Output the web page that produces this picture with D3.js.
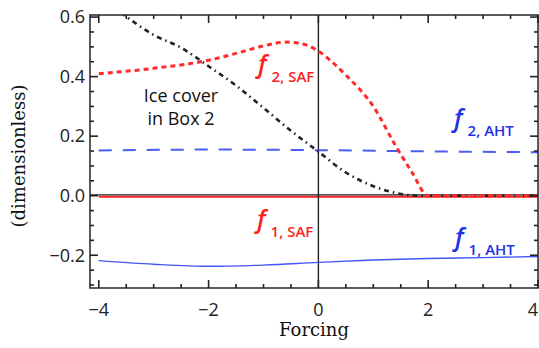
<!DOCTYPE html>
<html>
<head>
<meta charset="utf-8">
<script src="https://cdn.jsdelivr.net/npm/d3@7"></script>
<style>
  body { margin: 0; background: #fff; }
  svg { display: block; }
</style>
</head>
<body>
<div id="chart"></div>
<script>
// values
var f2safX = [-4, -3, -2, -1.5, -1, -0.6, -0.2, 0, 0.5, 1, 1.4, 1.7, 2, 3, 4];
var f2safY = [0.41, 0.428, 0.455, 0.478, 0.503, 0.516, 0.505, 0.485, 0.405, 0.30, 0.17, 0.08, 0, 0, 0];

var iceX = [-3.6, -3, -2.5, -2, -1.5, -1, -0.5, 0, 0.5, 1, 1.5, 1.8, 3, 4];
var iceY = [0.615, 0.54, 0.497, 0.435, 0.37, 0.295, 0.218, 0.148, 0.078, 0.032, 0.006, 0, 0, 0];

var f2ahtX = [-4, -2, 0, 2, 4];
var f2ahtY = [0.152, 0.155, 0.153, 0.149, 0.146];

var f1ahtX = [-4, -3, -2, -1, 0, 1, 2, 3, 4];
var f1ahtY = [-0.218, -0.23, -0.237, -0.233, -0.224, -0.216, -0.211, -0.208, -0.204];

var f1safX = [-4, 4];
var f1safY = [0, 0];

var xTicks = [-4, -2, 0, 2, 4];
var yTicks = [-0.2, 0.0, 0.2, 0.4, 0.6];

var W = 539, H = 348;
var margin = {top: 15, right: 1, bottom: 60, left: 90};

var x = d3.scaleLinear().domain([-4.16, 4]).range([margin.left, W - margin.right]);
var y = d3.scaleLinear().domain([-0.31, 0.607]).range([H - margin.bottom, margin.top]);

var svg = d3.select("#chart").append("svg")
  .attr("width", W)
  .attr("height", H);

svg.append("defs").append("clipPath").attr("id", "clip")
  .append("rect")
  .attr("x", margin.left).attr("y", margin.top)
  .attr("width", W - margin.left - margin.right)
  .attr("height", H - margin.top - margin.bottom);

function pts(xs, ys) {
  return xs.map(function(v, i) { return [v, ys[i]]; });
}

var line = d3.line()
  .x(function(d) { return x(d[0]); })
  .y(function(d) { return y(d[1]); })
  .curve(d3.curveMonotoneX);

var plot = svg.append("g").attr("clip-path", "url(#clip)");

//f1,SAF (zero) in red just under the axis
plot.append("path")
  .attr("d", line(pts(f1safX, f1safY)))
  .attr("transform", "translate(0,1)")
  .attr("fill", "none")
  .attr("stroke", "#ff2020")
  .attr("stroke-width", 2);

//axes through origin
plot.append("line")
  .attr("x1", margin.left).attr("x2", W - margin.right)
  .attr("y1", y(0) - 0.8).attr("y2", y(0) - 0.8)
  .attr("stroke", "#222").attr("stroke-width", 1.4);
plot.append("line")
  .attr("x1", x(0)).attr("x2", x(0))
  .attr("y1", margin.top).attr("y2", H - margin.bottom)
  .attr("stroke", "#222").attr("stroke-width", 1.4);

//f1,AHT
plot.append("path")
  .attr("d", line(pts(f1ahtX, f1ahtY)))
  .attr("fill", "none")
  .attr("stroke", "#4356f5")
  .attr("stroke-width", 1.4);

//f2,AHT
plot.append("path")
  .attr("d", line(pts(f2ahtX, f2ahtY)))
  .attr("fill", "none")
  .attr("stroke", "#4a5cf5")
  .attr("stroke-width", 2)
  .attr("stroke-dasharray", "13,11");

//ice cover
plot.append("path")
  .attr("d", line(pts(iceX, iceY)))
  .attr("fill", "none")
  .attr("stroke", "#222")
  .attr("stroke-width", 2.6)
  .attr("stroke-dasharray", "5,4,1.5,4");

//f2,SAF
plot.append("path")
  .attr("d", line(pts(f2safX, f2safY)))
  .attr("fill", "none")
  .attr("stroke", "#ff2a2a")
  .attr("stroke-width", 3)
  .attr("stroke-dasharray", "5,4");

//frame
var x0 = margin.left, x1 = W - margin.right, y0 = H - margin.bottom, y1 = margin.top;
svg.append("rect")
  .attr("x", x0).attr("y", y1)
  .attr("width", x1 - x0)
  .attr("height", y0 - y1)
  .attr("fill", "none")
  .attr("stroke", "#333")
  .attr("stroke-width", 1.6);

var xMinor = d3.range(-4, 4.01, 0.5).filter(function(v) { return xTicks.indexOf(v) < 0; });
var yMinor = d3.range(-0.3, 0.601, 0.05).map(function(v) { return Math.round(v * 100) / 100; })
  .filter(function(v) { return !yTicks.some(function(t) { return Math.abs(t - v) < 1e-6; }); });

//inward ticks on all four sides
var ticks = svg.append("g").attr("stroke", "#222").attr("stroke-width", 1.6);
function xTickMarks(vals, len) {
  vals.forEach(function(v) {
    ticks.append("line").attr("x1", x(v)).attr("x2", x(v)).attr("y1", y0).attr("y2", y0 - len);
    ticks.append("line").attr("x1", x(v)).attr("x2", x(v)).attr("y1", y1).attr("y2", y1 + len);
  });
}
function yTickMarks(vals, len) {
  vals.forEach(function(v) {
    ticks.append("line").attr("x1", x0).attr("x2", x0 + len).attr("y1", y(v)).attr("y2", y(v));
    ticks.append("line").attr("x1", x1).attr("x2", x1 - len).attr("y1", y(v)).attr("y2", y(v));
  });
}
xTickMarks(xTicks, 8);
xTickMarks(xMinor, 4);
yTickMarks(yTicks, 8);
yTickMarks(yMinor, 4);

var fmtY = d3.format(".1f");
var fmtX = d3.format("d");

svg.append("g").selectAll("text")
  .data(xTicks)
  .enter().append("text")
  .attr("x", function(d) { return d === 4 ? x(d) - 5 : x(d); })
  .attr("y", y0 + 28)
  .attr("text-anchor", "middle")
  .attr("font-family", "'Open Sans', sans-serif")
  .attr("font-size", "18px")
  .attr("fill", "#222")
  .text(fmtX);

svg.append("g").selectAll("text")
  .data(yTicks)
  .enter().append("text")
  .attr("x", x0 - 5)
  .attr("y", function(d) { return y(d); })
  .attr("dy", "0.35em")
  .attr("text-anchor", "end")
  .attr("font-family", "'Open Sans', sans-serif")
  .attr("font-size", "18px")
  .attr("fill", "#222")
  .text(fmtY);

//axis titles
svg.append("text")
  .attr("x", 314)
  .attr("y", 336)
  .attr("text-anchor", "middle")
  .attr("font-family", "'DejaVu Serif', serif")
  .attr("font-size", "18px")
  .attr("fill", "#111")
  .text("Forcing");

svg.append("text")
  .attr("transform", "translate(25,156) rotate(-90)")
  .attr("text-anchor", "middle")
  .attr("font-family", "'DejaVu Serif', serif")
  .attr("font-size", "18px")
  .attr("fill", "#111")
  .text("(dimensionless)");

//curve labels
function flabel(fx, fy, sub, color) {
  var t = svg.append("text")
    .attr("x", fx).attr("y", fy)
    .attr("font-family", "'Open Sans', sans-serif")
    .attr("fill", color);
  t.append("tspan")
    .attr("font-style", "italic")
    .attr("font-weight", 600)
    .attr("font-size", "25px")
    .text("f");
  t.append("tspan")
    .attr("dx", 5)
    .attr("dy", 9)
    .attr("font-weight", 600)
    .attr("font-size", "15px")
    .text(sub);
}

flabel(258, 73, "2, SAF", "#ff1f1f");
flabel(454, 127, "2, AHT", "#1f32e6");
flabel(257, 228, "1, SAF", "#ff1f1f");
flabel(455, 246, "1, AHT", "#1f32e6");

svg.append("text")
  .attr("x", 181).attr("y", 102)
  .attr("text-anchor", "middle")
  .attr("font-family", "'Open Sans', sans-serif")
  .attr("font-size", "18px")
  .attr("fill", "#111")
  .text("Ice cover");
svg.append("text")
  .attr("x", 181).attr("y", 125)
  .attr("text-anchor", "middle")
  .attr("font-family", "'Open Sans', sans-serif")
  .attr("font-size", "18px")
  .attr("fill", "#111")
  .text("in Box 2");
</script>
</body>
</html>
